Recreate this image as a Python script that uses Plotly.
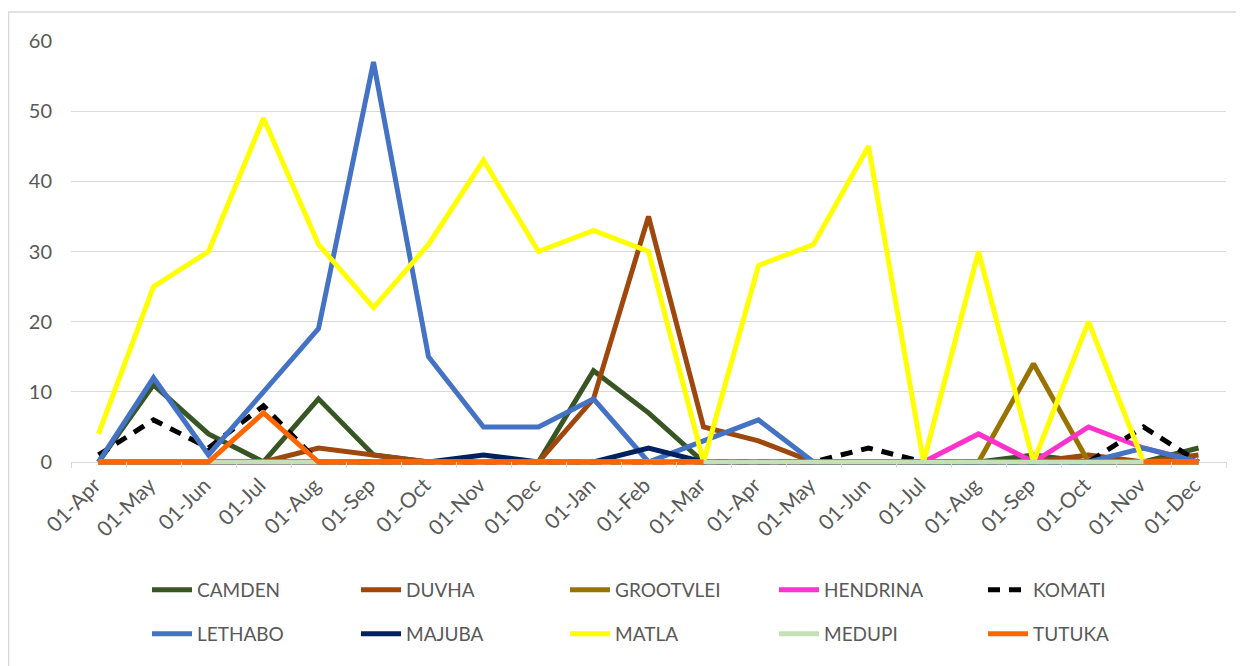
import plotly.graph_objects as go

months = ["01-Apr", "01-May", "01-Jun", "01-Jul", "01-Aug", "01-Sep", "01-Oct",
          "01-Nov", "01-Dec", "01-Jan", "01-Feb", "01-Mar", "01-Apr", "01-May",
          "01-Jun", "01-Jul", "01-Aug", "01-Sep", "01-Oct", "01-Nov", "01-Dec"]

camden    = [0, 11, 4, 0, 9, 1, 0, 0, 0, 13, 7, 0, 0, 0, 0, 0, 0, 1, 0, 0, 2]
duvha     = [0, 0, 0, 0, 2, 1, 0, 0, 0, 9, 35, 5, 3, 0, 0, 0, 0, 0, 1, 0, 1]
grootvlei = [0, 0, 0, 0, 0, 0, 0, 0, 0, 0, 0, 0, 0, 0, 0, 0, 0, 14, 0, 0, 0]
hendrina  = [0, 0, 0, 0, 0, 0, 0, 0, 0, 0, 0, 0, 0, 0, 0, 0, 4, 0, 5, 2, 0]
komati    = [1, 6, 2, 8, 0, 0, 0, 0, 0, 0, 0, 0, 0, 0, 2, 0, 0, 0, 0, 5, 0]
lethabo   = [0, 12, 1, 10, 19, 57, 15, 5, 5, 9, 0, 3, 6, 0, 0, 0, 0, 0, 0, 2, 0]
majuba    = [0, 0, 0, 0, 0, 0, 0, 1, 0, 0, 2, 0, 0, 0, 0, 0, 0, 0, 0, 0, 0]
matla     = [4, 25, 30, 49, 31, 22, 31, 43, 30, 33, 30, 0, 28, 31, 45, 0, 30, 0, 20, 0, None]
medupi    = [0] * 21
tutuka    = [0, 0, 0, 7, 0, 0, 0, 0, 0, 0, 0, 0, None, None, None, None, None, None, None, 0, 0]

series = [
    ("CAMDEN", camden, "#375623", "solid", "legend"),
    ("DUVHA", duvha, "#9E480E", "solid", "legend"),
    ("GROOTVLEI", grootvlei, "#997300", "solid", "legend"),
    ("HENDRINA", hendrina, "#FF33CC", "solid", "legend"),
    ("KOMATI", komati, "#000000", "12px,9px", "legend"),
    ("LETHABO", lethabo, "#4472C4", "solid", "legend2"),
    ("MAJUBA", majuba, "#002060", "solid", "legend2"),
    ("MATLA", matla, "#FFFF00", "solid", "legend2"),
    ("MEDUPI", medupi, "#C5E0B4", "solid", "legend2"),
    ("TUTUKA", tutuka, "#FF6600", "solid", "legend2"),
]

x = list(range(len(months)))
FONT = "Lato"
GREY = "#595959"
GRID = "#D9D9D9"

fig = go.Figure()
for name, vals, color, dash, leg in series:
    fig.add_trace(go.Scatter(
        x=x, y=vals, name=name, mode="lines", legend=leg,
        line=dict(color=color, width=5, dash=dash, shape="linear"),
        connectgaps=False,
    ))

# page has an 8px body margin; figure coordinates are page - 8
OFF = 8
W, H = 1236, 658
TICK_PX = 6            # plot area extends 6px below the zero line (tick marks live there)
ml, mr, mt, mb = 63, 18, 33, 204 - TICK_PX
pw, ph = W - ml - mr, H - mt - mb
y_top = 60
y_bottom = -TICK_PX * y_top / (ph - TICK_PX)

def py_paper(page_y):
    return (H - mb - (page_y - OFF)) / ph

def px_paper(page_x):
    return ((page_x - OFF) - ml) / pw

legend_common = dict(
    orientation="h", xanchor="left", yanchor="middle",
    font=dict(family=FONT, size=19, color=GREY),
    entrywidth=154, entrywidthmode="pixels",
    bgcolor="rgba(0,0,0,0)", itemwidth=40,
)

fig.update_layout(
    width=W, height=H,
    margin=dict(l=ml, r=mr, t=mt, b=mb, autoexpand=False),
    paper_bgcolor="white", plot_bgcolor="white",
    font=dict(family=FONT, size=19, color=GREY),
    showlegend=True,
    legend=dict(x=px_paper(147), y=py_paper(590), **legend_common),
    legend2=dict(x=px_paper(147), y=py_paper(634), **legend_common),
    xaxis=dict(
        range=[-0.5, len(months) - 0.5],
        tickmode="array", tickvals=x, ticktext=months,
        tickangle=-45, ticks="", showgrid=False, zeroline=False,
        showline=False,
        tickfont=dict(family=FONT, size=21, color=GREY),
        automargin=False, ticklabelshift=-4,
        minor=dict(ticks="inside", tick0=-0.5, dtick=1, ticklen=TICK_PX,
                   tickcolor=GRID, tickwidth=1, showgrid=False),
    ),
    yaxis=dict(
        range=[y_bottom, y_top], tickmode="array",
        tickvals=[0, 10, 20, 30, 40, 50, 60],
        showgrid=True, gridcolor=GRID, gridwidth=1,
        zeroline=True, zerolinecolor=GRID, zerolinewidth=1,
        showline=False, ticks="",
        tickfont=dict(family=FONT, size=20, color=GREY),
        ticklabelstandoff=18, automargin=False,
    ),
)

fig.add_shape(
    type="rect", xref="paper", yref="paper",
    x0=px_paper(8.5), x1=px_paper(1243),
    y0=py_paper(680), y1=py_paper(12),
    line=dict(color=GRID, width=1.5), fillcolor="rgba(0,0,0,0)",
    layer="below",
)

fig.write_html("out.html")
